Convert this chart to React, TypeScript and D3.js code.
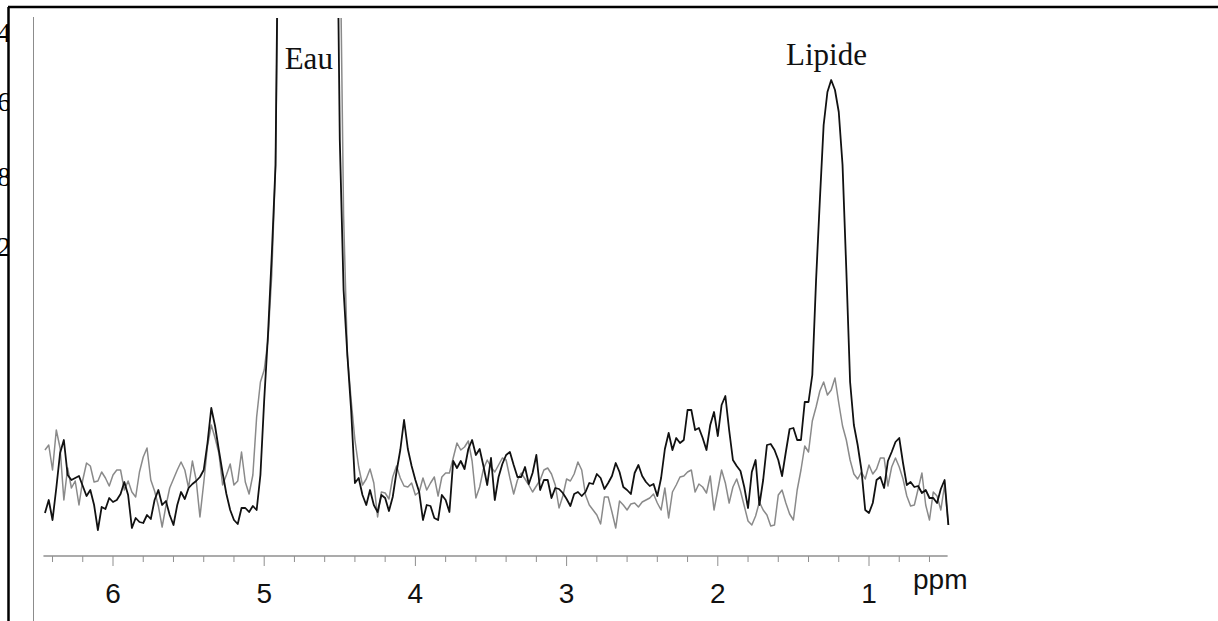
import React from "react";
import * as d3 from "d3";

// Chemical shift grid (ppm) of the sampled spectra
const PPM_START = 6.45;
const PPM_STEP = 0.025;

// Spectrum with lipid signal (black), arbitrary intensity units
const blackSpectrum = [
  27, 40, 20, 52, 87, 100, 65, 60, 62, 64,
  54, 44, 50, 35, 10, 33, 31, 42, 38, 40,
  46, 58, 45, 12, 22, 18, 17, 25, 21, 40,
  50, 35, 39, 25, 15, 35, 48, 41, 52, 56,
  59, 63, 70, 97, 132, 114, 90, 67, 46, 30,
  20, 16, 32, 32, 28, 34, 30, 65, 140, 205,
  285, 375,
  740, 890, 960, 1000, 1020, 1030, 1035, 1035, 1030, 1025, 1015, 1000, 980, 950, 900, 740,
  400,
  250, 185, 130, 57, 62, 45, 35, 50, 35, 28, 45,
  42, 29, 43, 68, 90, 120, 91, 74, 60, 48,
  20, 35, 34, 22, 20, 45, 40, 28, 79, 72,
  79, 71, 91, 100, 85, 91, 74, 55, 82, 40,
  63, 76, 85, 88, 75, 63, 63, 73, 56, 67,
  85, 50, 60, 60, 42, 52, 51, 47, 41, 34,
  46, 48, 44, 48, 57, 56, 66, 62, 51, 57,
  64, 77, 68, 53, 50, 46, 67, 75, 64, 58,
  54, 56, 44, 62, 91, 107, 90, 102, 97, 100,
  130, 130, 110, 112, 102, 90, 115, 128, 104, 135,
  144, 110, 80, 74, 69, 53, 32, 68, 80, 35,
  60, 95, 96, 90, 80, 64, 88, 111, 112, 100,
  100, 138, 138, 165, 260, 340, 415, 448, 460, 450,
  428, 375, 270, 158, 115, 95, 70, 30, 27, 37,
  60, 63, 52, 79, 88, 98, 102, 77, 55, 58,
  53, 54, 47, 50, 42, 42, 37, 51, 60, 15,
];

// Reference spectrum (gray)
const graySpectrum = [
  90, 95, 70, 110, 92, 40, 72, 52, 59, 35,
  60, 77, 74, 58, 59, 68, 62, 54, 65, 70,
  70, 50, 59, 48, 43, 68, 83, 92, 60, 49,
  34, 13, 34, 52, 61, 70, 78, 70, 52, 79,
  60, 23, 57, 94, 115, 102, 87, 55, 65, 76,
  55, 59, 88, 58, 46, 65, 123, 158, 170, 200,
  265, 375,
  690, 850, 930, 980, 1000, 1010, 1015, 1015, 1010, 1000, 990, 975, 955, 920, 860, 790,
  630,
  325, 185, 140, 100, 73, 55, 61, 71, 57, 23, 48,
  47, 41, 63, 74, 62, 54, 53, 57, 45, 48,
  62, 50, 57, 63, 44, 63, 67, 67, 82, 97,
  90, 93, 99, 79, 42, 53, 71, 80, 73, 68,
  75, 82, 80, 62, 46, 60, 67, 61, 55, 48,
  54, 60, 70, 72, 66, 55, 32, 44, 61, 59,
  66, 78, 70, 45, 35, 30, 25, 16, 43, 43,
  28, 12, 39, 35, 30, 36, 37, 33, 38, 40,
  42, 46, 37, 30, 52, 22, 48, 55, 63, 64,
  68, 70, 48, 56, 53, 47, 64, 30, 50, 70,
  57, 37, 53, 61, 49, 34, 19, 15, 24, 38,
  30, 25, 14, 15, 45, 50, 37, 26, 20, 50,
  70, 94, 88, 119, 133, 149, 158, 145, 150, 162,
  137, 114, 100, 80, 66, 61, 68, 61, 75, 66,
  71, 82, 82, 54, 73, 82, 73, 61, 44, 34,
  35, 51, 67, 35, 20, 48, 44, 30, 55, 15,
];

const majorTicks = [6, 5, 4, 3, 2, 1];
const minorTicks = [6.4, 6.2, 5.8, 5.6, 5.4, 5.2, 4.8, 4.6, 4.4, 4.2, 3.8, 3.6, 3.4, 3.2, 2.8, 2.6, 2.4, 2.2, 1.8, 1.6, 1.4, 1.2, 0.8, 0.6];
const axisExtent = [6.46, 0.48];
const axisUnit = "ppm";

const peakLabels = [
  { text: "Eau", ppm: 4.705, height: 471 },
  { text: "Lipide", ppm: 1.281, height: 475 },
];

// Clipped left-edge glyphs from the neighbouring panel
const edgeGlyphs = ["4", "6", "8", "2"];
const edgeGlyphHeights = [498, 429, 354, 284];

const W = 1218;
const H = 621;

export default function App() {
  const x = d3.scaleLinear().domain([6, 1]).range([113, 869]);
  const y = d3.scaleLinear().domain([0, 460]).range([540, 80]);

  const toPoints = (arr: number[]) => arr.map((v, i) => [PPM_START - i * PPM_STEP, v] as [number, number]);
  const line = d3
    .line<[number, number]>()
    .x((d) => x(d[0]))
    .y((d) => y(d[1]));

  const axisY = 556;

  return (
    <svg
      width={W}
      height={H}
      viewBox={`0 0 ${W} ${H}`}
      style={{ position: "absolute", left: 0, top: 0, background: "#fff" }}
    >
      <defs>
        <clipPath id="plotClip">
          <rect x={34} y={18} width={1180} height={600} />
        </clipPath>
        <clipPath id="edgeClip">
          <rect x={0} y={8} width={9} height={H} />
        </clipPath>
      </defs>
      <rect x={0} y={0} width={W} height={H} fill="#fff" />

      <g clipPath="url(#edgeClip)">
        {edgeGlyphs.map((g, i) => (
          <text
            key={i}
            x={11}
            y={y(edgeGlyphHeights[i])}
            textAnchor="end"
            fontFamily="'Liberation Serif', 'Times New Roman', serif"
            fontSize={28}
            fill="#000"
          >
            {g}
          </text>
        ))}
      </g>

      {/* frame */}
      <line x1={8.5} y1={7} x2={8.5} y2={H} stroke="#000" strokeWidth={2.5} />
      <line x1={8} y1={7} x2={W} y2={7} stroke="#000" strokeWidth={2.5} />
      <line x1={33.5} y1={17} x2={33.5} y2={H} stroke="#8c8c8c" strokeWidth={1} />

      {/* spectra */}
      <g clipPath="url(#plotClip)" fill="none" strokeLinejoin="round">
        <path d={line(toPoints(graySpectrum)) || ""} stroke="#8a8a8a" strokeWidth={1.5} />
        <path d={line(toPoints(blackSpectrum)) || ""} stroke="#111" strokeWidth={1.8} />
      </g>

      {/* peak labels */}
      {peakLabels.map((p) => (
        <text
          key={p.text}
          x={x(p.ppm)}
          y={y(p.height)}
          textAnchor="middle"
          fontFamily="'Liberation Serif', 'Times New Roman', serif"
          fontSize={31}
          fill="#111"
        >
          {p.text}
        </text>
      ))}

      {/* x axis */}
      <line x1={x(axisExtent[0])} x2={x(axisExtent[1])} y1={axisY} y2={axisY} stroke="#8f8f8f" strokeWidth={1.5} />
      {minorTicks.map((t) => (
        <line key={"m" + t} x1={x(t)} x2={x(t)} y1={axisY} y2={axisY + 6} stroke="#8f8f8f" strokeWidth={1} />
      ))}
      {majorTicks.map((t) => (
        <g key={"M" + t}>
          <line x1={x(t)} x2={x(t)} y1={axisY} y2={axisY + 10} stroke="#8f8f8f" strokeWidth={1} />
          <text
            x={x(t)}
            y={603}
            textAnchor="middle"
            fontFamily="'Liberation Sans', Arial, sans-serif"
            fontSize={28}
            fill="#111"
          >
            {t}
          </text>
        </g>
      ))}
      <text
        x={913}
        y={589}
        fontFamily="'Liberation Sans', Arial, sans-serif"
        fontSize={28}
        fill="#111"
      >
        {axisUnit}
      </text>
    </svg>
  );
}
